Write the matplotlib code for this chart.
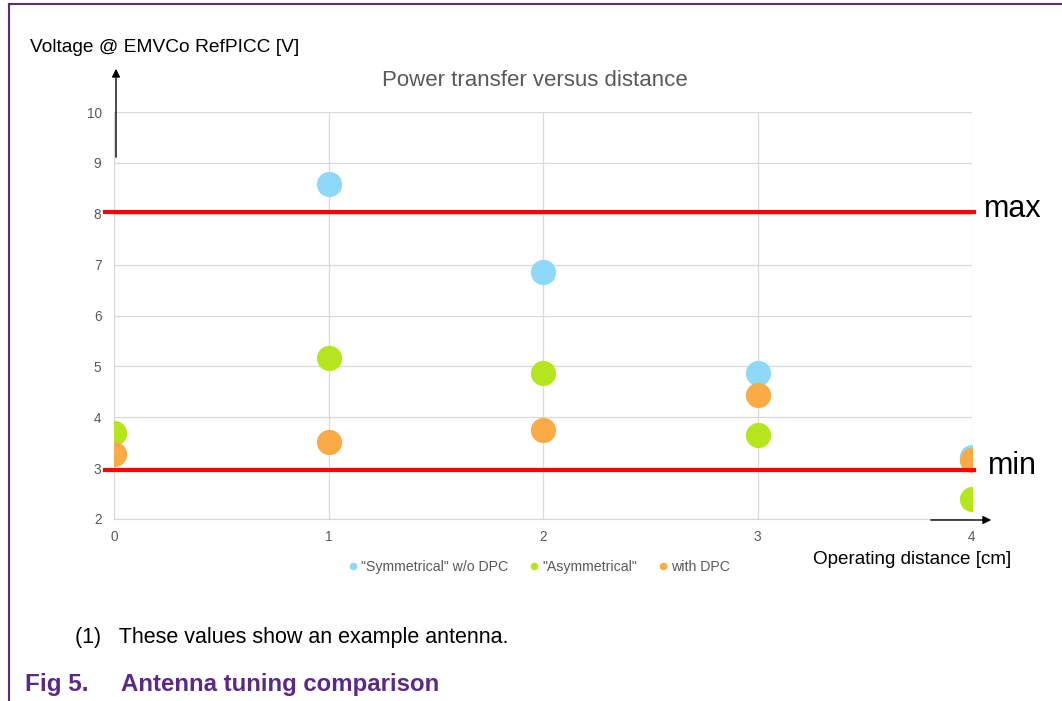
import matplotlib.pyplot as plt
from matplotlib.lines import Line2D
from matplotlib.patches import FancyArrowPatch

plt.rcParams["font.family"] = ["Liberation Sans", "DejaVu Sans"]

distance = [0, 1, 2, 3, 4]
sym_x = [1, 2, 3, 4]
sym_v = [8.58, 6.85, 4.86, 3.22]
asym_v = [3.69, 5.16, 4.87, 3.65, 2.39]
dpc_v = [3.28, 3.51, 3.75, 4.44, 3.16]
v_max = 8.03
v_min = 2.97

series_names = ['"Symmetrical" w/o DPC', '"Asymmetrical"', "with DPC"]
colors = ["#8ED8F8", "#B5E61D", "#FBAB45"]
purple = "#5A2A85"

W, H = 1062, 701
fig = plt.figure(figsize=(W / 100, H / 100), dpi=100)


def fx(px):
    return px / W


def fy(py):
    return 1 - py / H


ax = fig.add_axes([fx(114), fy(519), fx(972) - fx(114), fy(112) - fy(519)])
ax.set_xlim(0, 4)
ax.set_ylim(2, 10)
ax.set_xticks(distance)
ax.set_yticks(range(2, 11))
ax.grid(True, color="#D9D9D9", linewidth=0.9)
ax.set_axisbelow(True)
for side in ["top", "right"]:
    ax.spines[side].set_visible(False)
ax.spines["left"].set_color("#D9D9D9")
ax.spines["bottom"].set_color("#D9D9D9")
ax.tick_params(length=0, labelsize=9.8, labelcolor="#595959")
ax.tick_params(axis="y", pad=9)
ax.tick_params(axis="x", pad=8)

ax.scatter(sym_x, sym_v, s=330, color=colors[0], zorder=3, linewidths=0)
ax.scatter(distance, asym_v, s=330, color=colors[1], zorder=4, linewidths=0)
ax.scatter(distance, dpc_v, s=330, color=colors[2], zorder=5, linewidths=0)

fig.text(fx(535), fy(80), "Power transfer versus distance", fontsize=16,
         color="#595959", ha="center", va="center")

# red limit lines extend slightly past the plot area
for v in (v_max, v_min):
    ax.plot([-0.042, 4.01], [v, v], color="#FF0000", linewidth=3, zorder=6, clip_on=False)
fig.text(fx(984), fy(209), "max", fontsize=22, va="center", ha="left")
fig.text(fx(988), fy(466), "min", fontsize=22, va="center", ha="left")

# axis arrows
fig.add_artist(FancyArrowPatch(
    (fx(116), fy(160)), (fx(116), fy(66)), transform=fig.transFigure,
    arrowstyle="-|>", mutation_scale=12, color="black", linewidth=1))
fig.add_artist(FancyArrowPatch(
    (fx(928), fy(520)), (fx(994), fy(520)), transform=fig.transFigure,
    arrowstyle="-|>", mutation_scale=12, color="black", linewidth=1))

fig.text(fx(30), fy(47), "Voltage @ EMVCo RefPICC [V]", fontsize=13.8, va="center")
fig.text(fx(813), fy(560), "Operating distance [cm]", fontsize=13.6, va="center")

handles = [Line2D([], [], marker="o", linestyle="", markersize=4.5, color=c) for c in colors]
fig.legend(handles, series_names, loc="center", bbox_to_anchor=(fx(537), fy(567)),
           ncol=3, frameon=False, fontsize=10.2, handletextpad=0.0, columnspacing=1.2,
           handlelength=1.2, labelcolor="#595959")

fig.text(fx(75), fy(637), "(1)   These values show an example antenna.", fontsize=15.5, va="center")
fig.text(fx(25), fy(684), "Fig 5.", fontsize=17.5, color=purple, weight="bold", va="center")
fig.text(fx(121), fy(684), "Antenna tuning comparison", fontsize=17.3, color=purple,
         weight="bold", va="center")

# page frame
fig.add_artist(Line2D([fx(9), fx(1062)], [fy(4), fy(4)], color=purple, linewidth=1.5))
fig.add_artist(Line2D([fx(9), fx(9)], [fy(4), fy(701)], color=purple, linewidth=1.5))

fig.savefig("out.png", dpi=100)
